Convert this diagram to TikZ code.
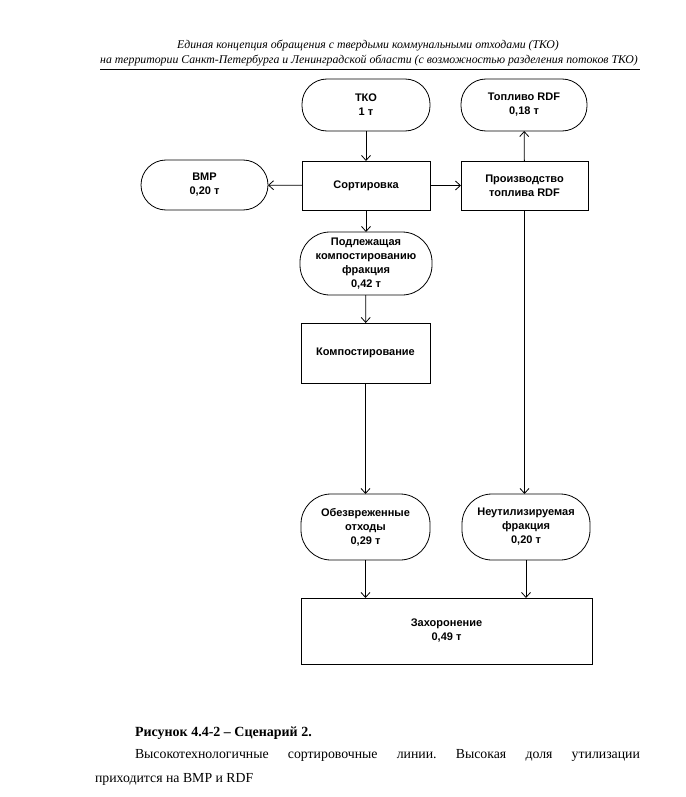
\documentclass[tikz,border=0pt]{standalone}
\usepackage{fontspec}
\setmainfont{Liberation Serif}
\setsansfont{Liberation Sans}
\usetikzlibrary{arrows.meta}
\frenchspacing
\begin{document}
\begin{tikzpicture}[x=1pt,y=-1pt,
  every node/.style={inner sep=0pt, outer sep=0pt},
  box/.style={draw, line width=0.8pt, align=center, font=\sffamily\bfseries\fontsize{11}{14}\selectfont},
  pill/.style={box, rounded corners=#1},
  pill/.default=25pt,
  arr/.style={line width=0.8pt, -{Straight Barb[length=5pt,width=9pt,line width=0.8pt]}}]
\useasboundingbox (0,0) rectangle (685,797);
% header
\node[font=\itshape\fontsize{11.8}{14}\selectfont] (h1) at (368,46) {Единая концепция обращения с твердыми коммунальными отходами (ТКО)};
\node[font=\itshape\fontsize{11.8}{14}\selectfont] (h2) at (369,61) {на территории Санкт-Петербурга и Ленинградской области (с возможностью разделения потоков ТКО)};
\coordinate (ul1) at (100,69);
\coordinate (ul2) at (640,69);
\draw[line width=0.8pt] (ul1) -- (ul2);
% nodes
\node[pill, minimum width=128pt, minimum height=52pt] (tko) at (366,105) {ТКО\\1 т};
\node[pill, minimum width=126pt, minimum height=52pt] (rdf) at (524,105) {Топливо RDF\\0,18 т};
\node[pill, minimum width=127pt, minimum height=50pt] (vmr) at (204.5,185) {ВМР\\0,20 т};
\node[box, minimum width=128pt, minimum height=49pt] (sort) at (366,185.5) {Сортировка};
\node[box, minimum width=127pt, minimum height=49pt] (prod) at (524.5,185.5) {Производство\\топлива RDF};
\node[pill=30pt, minimum width=132pt, minimum height=63pt] (podl) at (366,263.5) {Подлежащая\\компостированию\\фракция\\0,42 т};
\node[box, minimum width=129pt, minimum height=60pt] (komp) at (365.5,353) {Компостирование};
\node[pill=30pt, minimum width=129pt, minimum height=66pt] (obez) at (365.5,527) {Обезвреженные\\отходы\\0,29 т};
\node[pill=30pt, minimum width=128pt, minimum height=66pt] (neut) at (526,527) {Неутилизируемая\\фракция\\0,20 т};
\node[box, minimum width=291pt, minimum height=66pt] (zah) at (446.5,631) {Захоронение\\0,49 т};
% arrows
\draw[arr] (tko) -- (sort);
\draw[arr] (sort) -- (vmr);
\draw[arr] (sort) -- (prod);
\draw[arr] (prod) -- (rdf);
\draw[arr] (sort) -- (podl);
\draw[arr] (podl) -- (komp);
\draw[arr] (komp) -- (obez);
\draw[arr] (prod.south) -- (neut.north -| prod.south);
\draw[arr] (obez) -- (zah.north -| obez.south);
\draw[arr] (neut.south) -- (zah.north -| neut.south);
% caption
\node[anchor=base west, font=\bfseries\fontsize{14}{16}\selectfont] (cap) at (135,736) {Рисунок 4.4-2 – Сценарий 2.};
\node[anchor=base west, text width=545pt, align=justify, font=\fontsize{13.8}{24}\selectfont] (txt) at (95,758) {\hspace*{40pt}Высокотехнологичные сортировочные линии. Высокая доля утилизации\linebreak приходится на ВМР и RDF};
\end{tikzpicture}
\end{document}
